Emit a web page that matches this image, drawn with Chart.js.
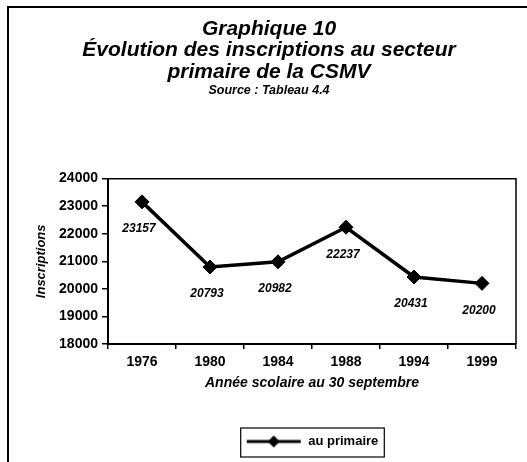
<!DOCTYPE html>
<html>
<head>
<meta charset="utf-8">
<script src="https://cdn.jsdelivr.net/npm/chart.js@4"></script>
<style>
  html, body { margin: 0; padding: 0; background: #fff; }
  #wrap { position: relative; width: 527px; height: 462px; }
</style>
</head>
<body>
<div id="wrap"><canvas id="c" width="527" height="462"></canvas></div>
<script>
const categories = ['1976', '1980', '1984', '1988', '1994', '1999'];
const valuesPrimaire = [23157, 20793, 20982, 22237, 20431, 20200];
const seriesLabel = 'au primaire';
const titleLines = ['Graphique 10', 'Évolution des inscriptions au secteur', 'primaire de la CSMV'];
const subtitleText = 'Source : Tableau 4.4';
const xAxisTitle = 'Année scolaire au 30 septembre';
const yAxisTitle = 'Inscriptions';
const yMin = 18000, yMax = 24000, yStep = 1000;

const FONT = '"Liberation Sans", Arial, sans-serif';

// legend marker: line with diamond
const legendImg = document.createElement('canvas');
legendImg.width = 56; legendImg.height = 14;
(function () {
  const g = legendImg.getContext('2d');
  g.strokeStyle = '#000'; g.lineWidth = 3;
  g.beginPath(); g.moveTo(1, 7); g.lineTo(55, 7); g.stroke();
  g.fillStyle = '#000';
  g.beginPath(); g.moveTo(28, 1); g.lineTo(34, 7); g.lineTo(28, 13); g.lineTo(22, 7); g.closePath(); g.fill();
})();

const framePlugin = {
  id: 'frame',
  beforeDraw(chart) {
    const ctx = chart.ctx;
    ctx.save();
    ctx.strokeStyle = '#000';
    ctx.lineWidth = 2;
    ctx.beginPath();
    ctx.moveTo(8, 462); ctx.lineTo(8, 7); ctx.lineTo(527, 7);
    ctx.stroke();
    ctx.restore();
  },
  afterDraw(chart) {
    const ctx = chart.ctx;
    const a = chart.chartArea;
    ctx.save();
    ctx.strokeStyle = '#000';
    ctx.lineWidth = 1.5;
    ctx.beginPath();
    ctx.moveTo(a.left, a.top); ctx.lineTo(a.right, a.top); ctx.lineTo(a.right, a.bottom);
    ctx.stroke();
    // legend border
    const lg = chart.legend;
    if (lg && lg.legendHitBoxes && lg.legendHitBoxes.length) {
      const hb = lg.legendHitBoxes[0];
      ctx.lineWidth = 1.2;
      ctx.strokeRect(hb.left - 5, lg.top + 1, hb.width + 11, lg.height - 2);
    }
    ctx.restore();
  }
};

const valueLabelPlugin = {
  id: 'valueLabels',
  afterDatasetsDraw(chart) {
    const ctx = chart.ctx;
    const meta = chart.getDatasetMeta(0);
    const ds = chart.data.datasets[0];
    ctx.save();
    ctx.fillStyle = '#000';
    ctx.font = 'italic bold 12px ' + FONT;
    ctx.textAlign = 'center';
    ctx.textBaseline = 'middle';
    meta.data.forEach((el, i) => {
      ctx.fillText(String(ds.data[i]), el.x - 3, el.y + 27);
    });
    ctx.restore();
  }
};

new Chart(document.getElementById('c'), {
  type: 'line',
  data: {
    labels: categories,
    datasets: [{
      label: seriesLabel,
      data: valuesPrimaire,
      borderColor: '#000',
      backgroundColor: '#000',
      borderWidth: 3.5,
      pointStyle: 'rectRot',
      pointRadius: 7,
      pointBorderWidth: 1,
      pointBackgroundColor: '#000',
      pointBorderColor: '#000',
      tension: 0,
      fill: false
    }]
  },
  options: {
    responsive: false,
    animation: false,
    devicePixelRatio: 1,
    layout: { padding: { left: 22, right: 11, top: 6, bottom: 4 } },
    plugins: {
      title: {
        display: true,
        text: titleLines,
        color: '#000',
        font: { family: FONT, size: 21, weight: 'bold', style: 'italic', lineHeight: 1.03 },
        padding: { top: 12, bottom: 1 }
      },
      subtitle: {
        display: true,
        text: subtitleText,
        color: '#000',
        font: { family: FONT, size: 12.5, weight: 'bold', style: 'italic', lineHeight: 1.1 },
        padding: { top: 0, bottom: 81 }
      },
      legend: {
        display: true,
        position: 'bottom',
        fullSize: false,
        labels: {
          usePointStyle: true,
          pointStyleWidth: 56,
          color: '#000',
          font: { family: FONT, size: 13, weight: 'bold' },
          padding: 8,
          generateLabels(chart) {
            const ds = chart.data.datasets[0];
            return [{
              text: ds.label,
              pointStyle: legendImg,
              fillStyle: '#000',
              strokeStyle: '#000',
              lineWidth: 0,
              hidden: false,
              datasetIndex: 0,
              fontColor: '#000'
            }];
          }
        }
      },
      tooltip: { enabled: false }
    },
    scales: {
      x: {
        type: 'category',
        offset: true,
        grid: { display: true, offset: true, drawOnChartArea: false, drawTicks: true, tickLength: 5, color: '#000', lineWidth: 1.5 },
        border: { display: true, color: '#000', width: 2 },
        ticks: { color: '#000', font: { family: FONT, size: 14, weight: 'bold' }, padding: 5, maxRotation: 0 },
        title: {
          display: true,
          text: xAxisTitle,
          color: '#000',
          font: { family: FONT, size: 14, weight: 'bold', style: 'italic', lineHeight: 1.2 },
          padding: { top: 6, bottom: 35 }
        },
        afterFit(scale) { scale.height = 83; }
      },
      y: {
        min: yMin,
        max: yMax,
        grid: { display: true, drawOnChartArea: false, drawTicks: true, tickLength: 6, color: '#000', lineWidth: 1.5 },
        border: { display: true, color: '#000', width: 2 },
        ticks: {
          stepSize: yStep,
          color: '#000',
          font: { family: FONT, size: 14, weight: 'bold' },
          padding: 4,
          callback: (v) => String(v)
        },
        title: {
          display: true,
          text: yAxisTitle,
          color: '#000',
          font: { family: FONT, size: 13, weight: 'bold', style: 'italic', lineHeight: 1.2 },
          padding: { top: 12, bottom: 0 }
        },
        afterFit(scale) { scale.width = 86; }
      }
    }
  },
  plugins: [framePlugin, valueLabelPlugin]
});
</script>
</body>
</html>
